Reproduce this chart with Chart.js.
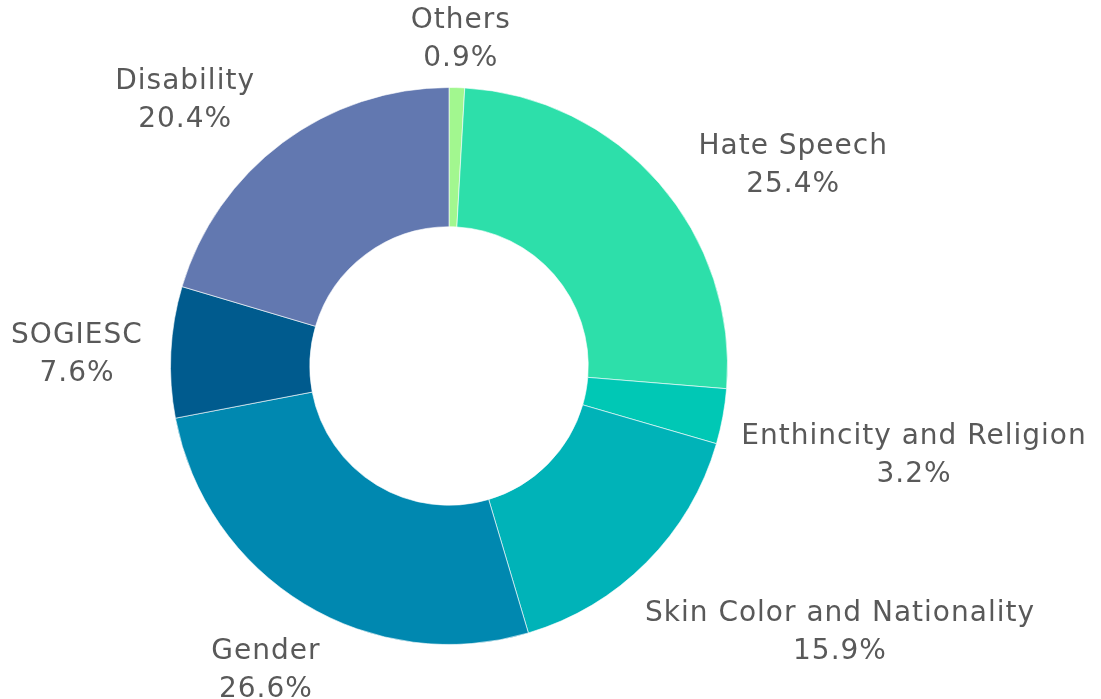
<!DOCTYPE html>
<html>
<head>
<meta charset="utf-8">
<script src="https://cdn.jsdelivr.net/npm/chart.js@4/dist/chart.umd.min.js"></script>
<style>
  html, body { margin: 0; padding: 0; background: #fff; }
  #wrap { width: 1101px; height: 699px; }
</style>
</head>
<body>
<div id="wrap"><canvas id="chartDona"></canvas></div>
<script>
// datos (orden horario desde arriba)
const categorias = ['Others', 'Hate Speech', 'Enthincity and Religion', 'Skin Color and Nationality', 'Gender', 'SOGIESC', 'Disability'];
const porcentajes = [0.9, 25.4, 3.2, 15.9, 26.6, 7.6, 20.4];
const colores = ['#a2f78f', '#2ddfaa', '#00c8b5', '#00b3b8', '#0088b0', '#005b8e', '#6278b0'];

const FUENTE = '"DejaVu Sans", sans-serif';
const TAM_FUENTE = 28;
const INTERLINEA = 38;

// etiquetas de dos lineas fuera del anillo
const etiquetasExternas = {
    id: 'etiquetasExternas',
    afterDraw(chart) {
        const ctx = chart.ctx;
        const meta = chart.getDatasetMeta(0);
        ctx.save();
        ctx.font = TAM_FUENTE + 'px ' + FUENTE;
        if ('letterSpacing' in ctx) ctx.letterSpacing = '1px';
        ctx.fillStyle = '#595959';
        ctx.textAlign = 'center';
        ctx.textBaseline = 'alphabetic';
        meta.data.forEach((arc, i) => {
            const p = arc.getProps(['x', 'y', 'startAngle', 'endAngle', 'outerRadius'], true);
            const mid = (p.startAngle + p.endAngle) / 2;
            const ux = Math.cos(mid), uy = Math.sin(mid);
            const lineas = [categorias[i], porcentajes[i].toFixed(1) + '%'];
            const ancho = Math.max(...lineas.map(t => ctx.measureText(t).width));
            const f = Math.max(-1, Math.min(1, ux * 1.5));
            // empuje horizontal en diagonales superiores, hacia dentro en las inferiores
            const cx = p.x + (p.outerRadius + 26) * ux + (ancho / 2) * f - 40 * uy * ux;
            const base = p.y + (p.outerRadius + 65) * uy + 5 + 11 * ux;
            ctx.fillText(lineas[0], cx, base);
            ctx.fillText(lineas[1], cx, base + INTERLINEA);
        });
        ctx.restore();
    }
};

new Chart(document.getElementById('chartDona'), {
    type: 'doughnut',
    data: {
        labels: categorias,
        datasets: [{
            data: porcentajes,
            backgroundColor: colores,
            borderColor: 'rgba(255,255,255,0.6)',
            borderWidth: 1
        }]
    },
    options: {
        responsive: true,
        maintainAspectRatio: false,
        animation: false,
        cutout: '50%',
        layout: { padding: { left: 170, right: 373, top: 87, bottom: 54 } },
        plugins: {
            legend: { display: false },
            tooltip: { enabled: false }
        }
    },
    plugins: [etiquetasExternas]
});
</script>
</body>
</html>
